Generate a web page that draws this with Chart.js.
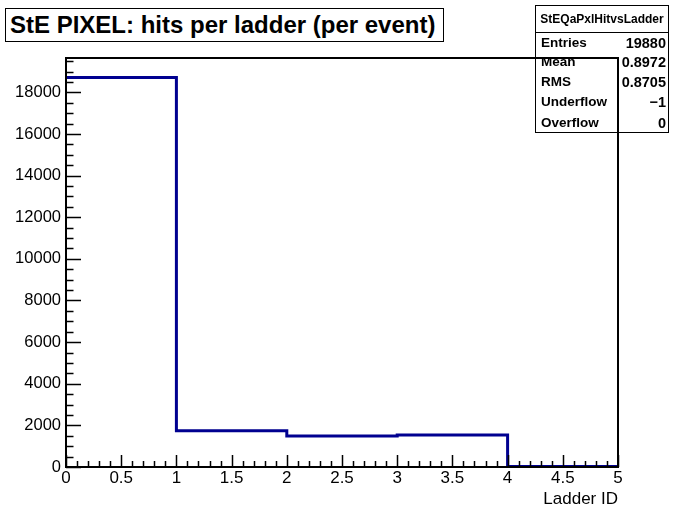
<!DOCTYPE html>
<html><head><meta charset="utf-8">
<script src="https://cdn.jsdelivr.net/npm/chart.js@4.4.1/dist/chart.umd.min.js"></script>
<style>
html,body{margin:0;padding:0;background:#fff;}
#wrap{position:relative;width:673px;height:508px;overflow:hidden;}
#c{position:absolute;left:0;top:0;}
.box{position:absolute;border:1px solid #000;box-sizing:border-box;font-family:"Liberation Sans",Arial,Helvetica,sans-serif;color:#000;}
#title{left:5px;top:8px;width:439px;height:34px;background:#fff;font-weight:bold;font-size:24px;line-height:32px;padding-left:4px;white-space:nowrap;}
#stats{left:535px;top:5px;width:134px;height:128px;background:transparent;font-weight:bold;}
#stats .hd{position:absolute;left:0;top:0;width:132px;height:26px;border-bottom:1px solid #000;text-align:center;font-size:12px;line-height:27px;}
#stats .row{position:absolute;left:5px;width:125px;font-size:13.5px;height:18px;line-height:18px;}
#stats .row span{position:absolute;right:0;top:0;font-size:14.5px;}
</style>
</head><body>
<div id="wrap">
<canvas id="c" width="673" height="508"></canvas>
<div id="title" class="box">StE PIXEL: hits per ladder (per event)</div>
<div id="stats" class="box"></div>
</div>
<script>
// ---- data ----
const binEdges = [0, 1, 2, 3, 4, 5];
const binCounts = [18710, 1745, 1490, 1540, 30];
const xTickValues = [0, 0.5, 1, 1.5, 2, 2.5, 3, 3.5, 4, 4.5, 5];
const xTickLabels = ["0", "0.5", "1", "1.5", "2", "2.5", "3", "3.5", "4", "4.5", "5"];
const yTickValues = [0, 2000, 4000, 6000, 8000, 10000, 12000, 14000, 16000, 18000];
const yTickLabels = ["0", "2000", "4000", "6000", "8000", "10000", "12000", "14000", "16000", "18000"];
const statNames = ["Entries", "Mean", "RMS", "Underflow", "Overflow"];
const statValues = ["19880", "0.8972", "0.8705", "\u22121", "0"];
const histName = "StEQaPxlHitvsLadder";
const xTitle = "Ladder ID";
const yMax = 19650;

// stats box text
const stats = document.getElementById('stats');
const hd = document.createElement('div'); hd.className = 'hd'; hd.textContent = histName; stats.appendChild(hd);
const rowTops = [28, 47, 67, 87, 108];
statNames.forEach((n, i) => {
  const r = document.createElement('div'); r.className = 'row'; r.style.top = rowTops[i] + 'px';
  r.textContent = n;
  const s = document.createElement('span'); s.textContent = statValues[i]; r.appendChild(s);
  stats.appendChild(r);
});

// step points from bins
const pts = binCounts.map((v, i) => ({x: binEdges[i], y: v}));
pts.push({x: binEdges[binEdges.length - 1], y: binCounts[binCounts.length - 1]});

const FONT = "'Liberation Sans', Arial, Helvetica, sans-serif";

const frameTicks = {
  id: 'frameTicks',
  afterDatasetsDraw(chart) {
    const {ctx, chartArea: a, scales: {x, y}} = chart;
    ctx.save();
    ctx.strokeStyle = '#000';
    ctx.lineWidth = 1.5;
    ctx.beginPath();
    // x ticks: major every 0.5, minor every 0.1
    for (let i = 0; i <= 50; i++) {
      const v = i / 10;
      const px = Math.round(x.getPixelForValue(v)) + 0.5;
      const len = (i % 5 === 0) ? 12 : 6;
      ctx.moveTo(px, a.bottom);
      ctx.lineTo(px, a.bottom - len);
    }
    // y ticks: major every 2000, minor every 500
    for (let i = 0; i * 500 <= yMax; i++) {
      const py = Math.round(y.getPixelForValue(i * 500)) + 0.5;
      const len = (i % 4 === 0) ? 15 : 7.5;
      ctx.moveTo(a.left, py);
      ctx.lineTo(a.left + len, py);
    }
    ctx.stroke();
    ctx.lineWidth = 2;
    ctx.strokeRect(a.left, a.top, a.right - a.left, a.bottom - a.top);
    ctx.restore();
  }
};

new Chart(document.getElementById('c'), {
  type: 'line',
  data: {
    datasets: [{
      data: pts,
      stepped: true,
      borderColor: '#000090',
      borderWidth: 3,
      pointRadius: 0,
      fill: false,
      tension: 0
    }]
  },
  options: {
    responsive: false,
    animation: false,
    devicePixelRatio: 1,
    layout: {padding: {left: 0, right: 55, top: 58, bottom: 0}},
    plugins: {legend: {display: false}, tooltip: {enabled: false}, title: {display: false}},
    scales: {
      x: {
        type: 'linear', min: 0, max: 5,
        grid: {display: false, drawTicks: false},
        border: {display: false},
        afterBuildTicks(s) { s.ticks = xTickValues.map(v => ({value: v})); },
        ticks: {
          autoSkip: false, maxRotation: 0, padding: 3, color: '#000',
          font: {family: FONT, size: 17, lineHeight: 1},
          callback: (v) => { const k = xTickValues.indexOf(v); return k >= 0 ? xTickLabels[k] : ''; }
        },
        title: {display: true, text: xTitle, align: 'end', color: '#000', font: {family: FONT, size: 17, lineHeight: 1}, padding: {top: -2, bottom: 0}},
        afterFit(s) { s.height = 41; }
      },
      y: {
        type: 'linear', min: 0, max: yMax,
        grid: {display: false, drawTicks: false},
        border: {display: false},
        afterBuildTicks(s) { s.ticks = yTickValues.map(v => ({value: v})); },
        ticks: {
          autoSkip: false, padding: 5, color: '#000',
          font: {family: FONT, size: 16.5},
          callback: (v) => { const k = yTickValues.indexOf(v); return k >= 0 ? yTickLabels[k] : ''; }
        },
        afterFit(s) { s.width = 66; }
      }
    }
  },
  plugins: [frameTicks]
});
</script>
</body></html>
